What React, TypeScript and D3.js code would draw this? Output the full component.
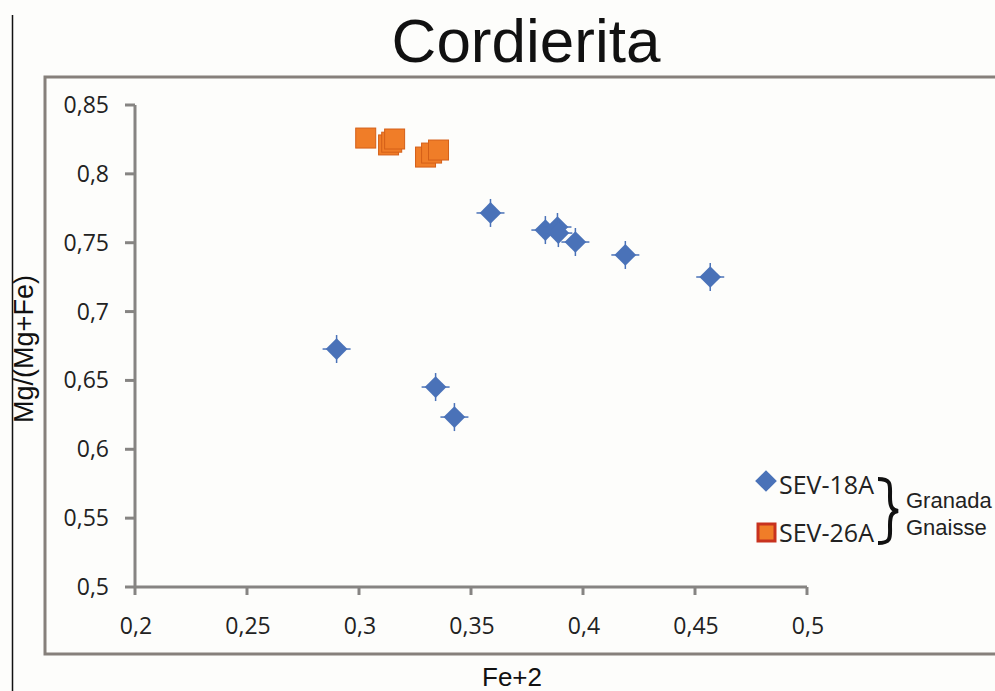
import React from 'react';
import * as d3 from 'd3';

// SEV-18A (blue diamonds)
const sev18Fe = [0.3587, 0.3832, 0.3886, 0.389, 0.3966, 0.4189, 0.4568, 0.29, 0.3342, 0.3426];
const sev18Mg = [0.7716, 0.7592, 0.7614, 0.757, 0.7505, 0.7411, 0.7251, 0.6728, 0.6452, 0.6234];

// SEV-26A (orange squares)
const sev26Fe = [0.303, 0.3132, 0.3146, 0.3159, 0.3297, 0.3324, 0.3355];
const sev26Mg = [0.826, 0.821, 0.823, 0.8253, 0.8122, 0.8151, 0.8173];

const xTicks = [0.2, 0.25, 0.3, 0.35, 0.4, 0.45, 0.5];
const yTicks = [0.5, 0.55, 0.6, 0.65, 0.7, 0.75, 0.8, 0.85];

const W = 995;
const H = 691;
const axisColor = '#868482';
const blue = '#4a72b8';
const orange = '#f07d28';

const fmt = (v: number) => String(+v.toFixed(2)).replace('.', ',');

export default function App() {
    const x = d3.scaleLinear().domain([0.2, 0.5]).range([135, 807]);
    const y = d3.scaleLinear().domain([0.5, 0.85]).range([587, 105]);

    const diamond = d3.symbol().type(d3.symbolDiamond2).size(300)();

    const blueData = sev18Fe.map((d, i) => [d, sev18Mg[i]]);
    const orangeData = sev26Fe.map((d, i) => [d, sev26Mg[i]]);

    return (
        <svg
            width={W}
            height={H}
            style={{ position: 'absolute', left: 0, top: 0, background: '#fdfdfb' }}
        >
            <line x1={12.5} x2={12.5} y1={15} y2={H} stroke="#111" strokeWidth={1.5} />
            <text
                x={526}
                y={62}
                textAnchor="middle"
                fontFamily="Liberation Sans, Arial, sans-serif"
                fontSize={62}
                fill="#111"
            >
                Cordierita
            </text>

            {/* outer frame, open on the right */}
            <path
                d={`M${W},77 H45 V654 H${W}`}
                fill="none"
                stroke="#86807b"
                strokeWidth={3}
            />

            {/* axes */}
            <line x1={x(0.2)} x2={x(0.2)} y1={y(0.85)} y2={y(0.5)} stroke={axisColor} strokeWidth={3} />
            <line x1={x(0.2)} x2={x(0.5)} y1={y(0.5)} y2={y(0.5)} stroke={axisColor} strokeWidth={3} />
            {yTicks.map(t => (
                <g key={'y' + t}>
                    <line x1={125} x2={x(0.2)} y1={y(t)} y2={y(t)} stroke={axisColor} strokeWidth={3} />
                    <text
                        x={109}
                        y={y(t) + 8}
                        textAnchor="end"
                        fontFamily="Open Sans, sans-serif"
                        fontSize={23}
                        fill="#222"
                    >
                        {fmt(t)}
                    </text>
                </g>
            ))}
            {xTicks.map(t => (
                <g key={'x' + t}>
                    <line x1={x(t)} x2={x(t)} y1={y(0.5)} y2={y(0.5) + 8} stroke={axisColor} strokeWidth={3} />
                    <text
                        x={x(t) + 1}
                        y={634}
                        textAnchor="middle"
                        fontFamily="Open Sans, sans-serif"
                        fontSize={23}
                        fill="#222"
                    >
                        {fmt(t)}
                    </text>
                </g>
            ))}

            {/* axis titles */}
            <text
                transform="translate(33,349) rotate(-90)"
                textAnchor="middle"
                fontFamily="Liberation Sans, Arial, sans-serif"
                fontSize={27}
                fill="#111"
            >
                Mg/(Mg+Fe)
            </text>
            <text
                x={512}
                y={686}
                textAnchor="middle"
                fontFamily="Liberation Sans, Arial, sans-serif"
                fontSize={26}
                fill="#111"
            >
                Fe+2
            </text>

            {/* SEV-26A */}
            {orangeData.map((d, i) => (
                <rect
                    key={'o' + i}
                    x={x(d[0]) - 10}
                    y={y(d[1]) - 10}
                    width={20}
                    height={20}
                    fill={orange}
                    stroke="#d45f18"
                    strokeWidth={1}
                />
            ))}

            {/* SEV-18A with small error bars */}
            {blueData.map((d, i) => (
                <g key={'b' + i} transform={`translate(${x(d[0])},${y(d[1])})`}>
                    <line x1={-14} x2={14} y1={0} y2={0} stroke={blue} strokeWidth={1.5} />
                    <line x1={0} x2={0} y1={-14} y2={14} stroke={blue} strokeWidth={1.5} />
                    <path d={diamond || ''} fill={blue} />
                </g>
            ))}

            {/* legend */}
            <g fontFamily="Open Sans, sans-serif" fontSize={25} fill="#222">
                <path d={diamond || ''} transform="translate(766,481)" fill={blue} />
                <text x={779} y={494}>SEV-18A</text>
                <rect x={758} y={524} width={17} height={17} fill={orange} stroke="#c8321e" strokeWidth={3} />
                <text x={779} y={542}>SEV-26A</text>
            </g>
            <path
                d="M878,479 C892,479 890,485 890,497 C890,507 892,510 898,511 C892,512 890,515 890,525 C890,537 892,543 878,543"
                fill="none"
                stroke="#111"
                strokeWidth={4}
            />
            <g fontFamily="Liberation Sans, Arial, sans-serif" fontSize={22} fill="#222">
                <text x={906} y={508}>Granada</text>
                <text x={906} y={535}>Gnaisse</text>
            </g>
        </svg>
    );
}
